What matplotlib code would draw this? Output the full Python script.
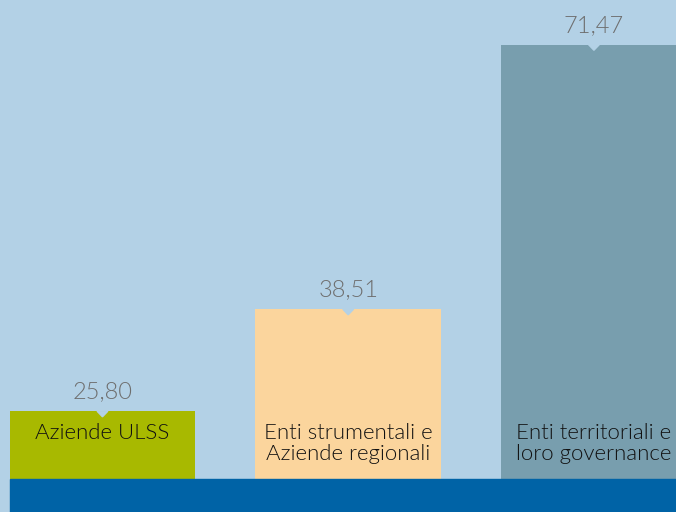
import numpy as np
import matplotlib.pyplot as plt
from matplotlib.patches import Rectangle, Polygon

categories = ["Aziende ULSS", "Enti strumentali e\nAziende regionali", "Enti territoriali e\nloro governance"]
values = [25.80, 38.51, 71.47]
value_labels = ["25,80", "38,51", "71,47"]

bar_colors = ["#a8b900", "#fbd59d", "#789eae"]
bg = "#b3d1e6"
band = "#0063a6"

plt.rcParams['font.family'] = ['Lato', 'DejaVu Sans']

fig = plt.figure(figsize=(6.76, 5.12), dpi=100)
fig.patch.set_facecolor(bg)
ax = fig.add_axes([0, 0, 1, 1])
ax.set_facecolor(bg)

x = np.arange(len(values))
width = 0.755
ax.bar(x, values, width=width, color=bar_colors, zorder=2)

ax.set_xlim(-0.417, 2.334)
ax.set_ylim(13.24, 77.03)
ax.axis('off')

# small notch at the top of each bar, pointing down, plus the value above it
for xi, v, lab in zip(x, values, value_labels):
    tri = Polygon([[xi - 0.022, v], [xi + 0.022, v], [xi, v - 0.7]],
                  closed=True, color=bg, zorder=3)
    ax.add_patch(tri)
    ax.text(xi, v + 1.6, lab, ha='center', va='baseline',
            fontsize=17, color='#6e6e6e', fontweight=300, zorder=4)

for xi, lab in zip(x, categories):
    ax.text(xi, 1 - 423 / 512, lab, transform=ax.get_xaxis_transform(),
            ha='center', va='top', fontsize=16, color='#111111',
            fontweight=300, linespacing=1.05, zorder=4)

# dark blue strip along the bottom
ax.add_patch(Rectangle((10 / 676, 0), 1 - 10 / 676, 33 / 512, transform=ax.transAxes,
                       color=band, zorder=5))

fig.savefig("out.png", dpi=100, facecolor=bg)
